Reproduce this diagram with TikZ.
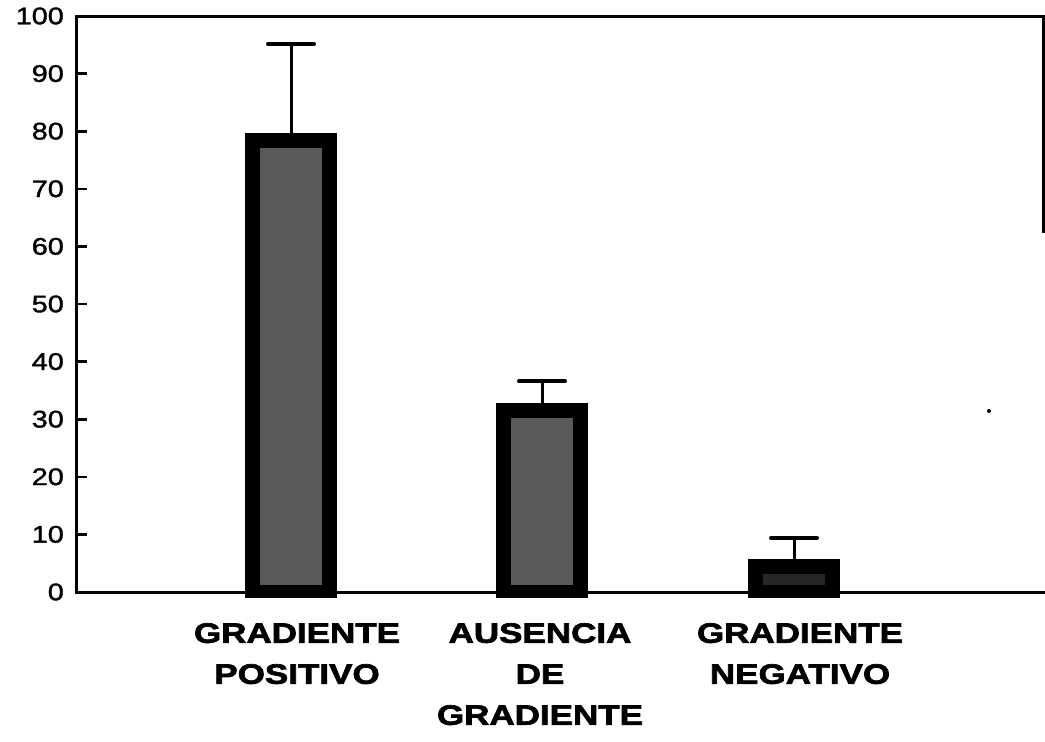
\documentclass[tikz,border=0pt]{standalone}
\usepackage{fontspec}
\newfontfamily\ejefont{Liberation Sans}[FakeStretch=1.2,FakeBold=1.5]
\newfontfamily\grupofont{Liberation Sans}[FakeStretch=1.25,FakeBold=2.5]
\tikzset{
  eje/.style={line width=3pt},
  marca/.style={line width=2.6pt},
  numero/.style={anchor=east, inner sep=0pt, font=\ejefont\fontsize{24}{24}\selectfont},
  grupo/.style={anchor=north, inner sep=0pt, align=center, font=\grupofont\bfseries\fontsize{28}{41}\selectfont},
  barra/.style={fill=black},
  error/.style={line width=3pt},
  tope/.style={line width=4pt, line cap=round}
}
\begin{document}
\begin{tikzpicture}[x=1pt,y=-1pt]
	\useasboundingbox (0,0) rectangle (1045,742);
	
	% Ejes y marco
	\draw[eje] (1043,233) -- (1043,16) -- (76,16) -- (76,592) -- (1045,592);
	
	% Marcas y valores del eje vertical
	\foreach \v in {0,10,...,100} {
		\draw[marca] (76,{592-5.76*\v}) -- ++(11,0);
		\node[numero] (n\v) at (64,{592-5.76*\v}) {\v};
	}
	
	% Barras con su error
	\foreach \cx/\v/\e/\tono [count=\i] in {291/79.7/95.1/black!65, 542/32.8/36.6/black!65, 794/5.7/9.4/black!85} {
		\fill[barra] (\cx-46,{592-5.76*\v}) rectangle (\cx+46,598); % borde negro
		\fill[fill=\tono] (\cx-31,{592-5.76*\v+15}) rectangle (\cx+31,585); % interior
		\coordinate (sup\i) at (\cx,{592-5.76*\v});
		\coordinate (err\i) at (\cx,{592-5.76*\e});
		\draw[error] (sup\i) -- (err\i);
		\draw[tope] ([xshift=-23pt]err\i) -- ([xshift=23pt]err\i);
	}
	
	% Punto suelto
	\fill (989,411) circle (2pt);
	
	% Rótulos de los grupos
	\node[grupo] (g1) at (297,623) {GRADIENTE\\POSITIVO};
	\node[grupo] (g2) at (540,623) {AUSENCIA\\DE\\GRADIENTE};
	\node[grupo] (g3) at (800,623) {GRADIENTE\\NEGATIVO};
	
\end{tikzpicture}
\end{document}
